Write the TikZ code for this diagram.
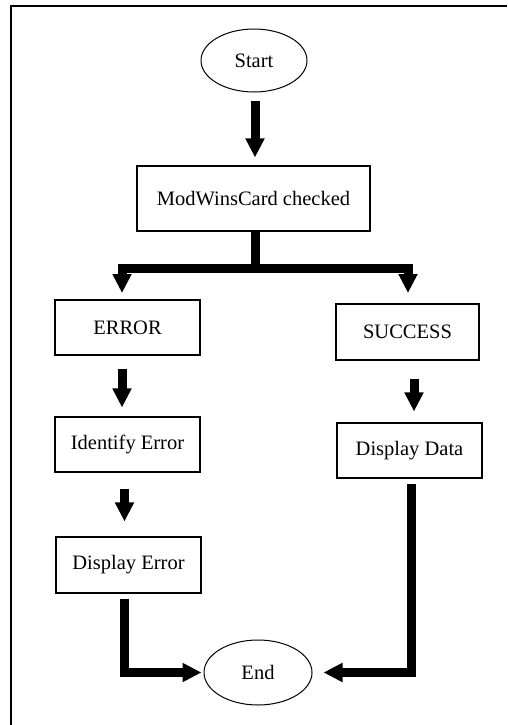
\documentclass[tikz,border=0pt]{standalone}
\usepackage{fontspec}
\setmainfont{Liberation Serif}
\usetikzlibrary{arrows.meta,shapes.geometric}
\begin{document}
\begin{tikzpicture}[x=1pt,y=-1pt,
  box/.style={draw, line width=1.1pt, inner sep=0pt, font=\fontsize{20.5}{24}\selectfont},
  oval/.style={draw, ellipse, line width=1pt, inner sep=0pt, font=\fontsize{20.5}{24}\selectfont},
  arr/.style={line width=9pt, line join=miter, -{Triangle[width=18pt,length=19pt]}},
  bar/.style={line width=9pt, line join=miter}]
\useasboundingbox (0,0) rectangle (507,725);
\draw[line width=1.8pt] (11,725) -- (11,6) -- (507,6);

\node[oval, minimum width=106pt, minimum height=63pt] (start) at (254,60.5) {Start};
\node[box, minimum width=233pt, minimum height=65pt] (mod) at (253.5,198.5) {ModWinsCard checked};
\node[box, minimum width=145pt, minimum height=55pt] (err) at (127.5,327.5) {ERROR};
\node[box, minimum width=143pt, minimum height=56pt] (succ) at (407.5,332) {SUCCESS};
\node[box, minimum width=145pt, minimum height=55pt] (ident) at (127.5,444.5) {Identify Error};
\node[box, minimum width=145pt, minimum height=55pt] (ddata) at (409.5,450.5) {Display Data};
\node[box, minimum width=145pt, minimum height=56pt] (derr) at (128.5,565) {Display Error};
\node[oval, minimum width=108pt, minimum height=65pt] (end) at (258,672.5) {End};

\draw[arr, shorten <=8pt, shorten >=8pt] ([xshift=1pt]start.south) -- ([xshift=1pt]start.south |- mod.north);

\coordinate (b) at (255.5,268);
\coordinate (bl) at (122,293);
\coordinate (br) at (408,293);
\draw[bar] (mod.south -| b) -- (b);
\draw[arr] (b) -| (bl);
\draw[arr] (b) -| (br);

\draw[arr, shorten <=13pt, shorten >=9pt] ([xshift=-5.5pt]err.south) -- ([xshift=-5.5pt]err.south |- ident.north);
\draw[arr, shorten <=18pt, shorten >=11pt] ([xshift=6.5pt]succ.south) -- ([xshift=6.5pt]succ.south |- ddata.north);
\draw[arr, shorten <=16pt, shorten >=15pt] ([xshift=-3pt]ident.south) -- ([xshift=-3pt]ident.south |- derr.north);
\draw[arr, shorten <=5pt, shorten >=2pt] ([xshift=-4pt]derr.south) |- (end.west);
\draw[arr, shorten <=5pt, shorten >=11pt] ([xshift=2pt]ddata.south) |- (end.east);
\end{tikzpicture}
\end{document}
